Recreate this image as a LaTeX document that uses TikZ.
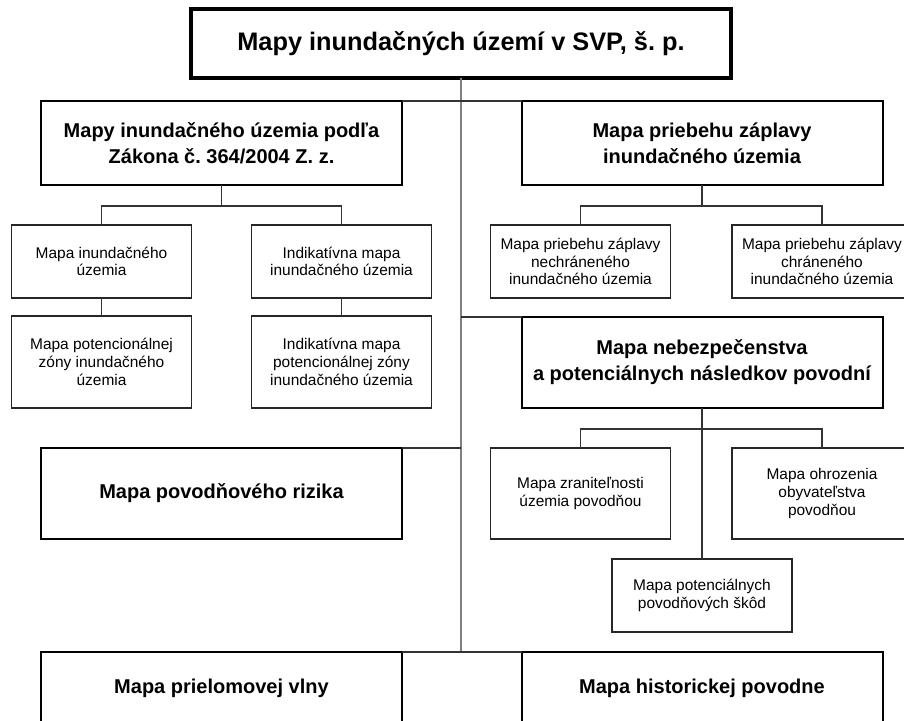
\documentclass[tikz,border=0pt]{standalone}
\usepackage{fontspec}
\setmainfont{Liberation Sans}
\usepackage{tikz}
\usetikzlibrary{positioning}
\frenchspacing

\begin{document}
\begin{tikzpicture}[x=0.75pt,y=-0.75pt,
	title box/.style={draw,line width=3pt,minimum width=405pt,minimum height=51.75pt,inner sep=0pt,outer sep=0pt,font=\bfseries\fontsize{19}{23}\selectfont},
	main box/.style={draw,line width=1.5pt,minimum width=270.75pt,minimum height=63pt,inner sep=0pt,outer sep=0pt,align=center,font=\bfseries\fontsize{15}{19.5}\selectfont},
	leaf box/.style={draw=black!85,line width=1pt,minimum width=135pt,minimum height=54.75pt,inner sep=0pt,outer sep=0pt,align=center,font=\fontsize{11.6}{13.3}\selectfont},
	link/.style={draw=black!80,line width=0.8pt},
	trunk line/.style={draw=black!50,line width=1.1pt}]
		
		\path[use as bounding box,clip] (0,0) rectangle (904,721);
		
		\node[title box] (maps) at (461,43.5) {Mapy inundačných území v SVP, š. p.};
		\node[main box] (law) at (221.5,143) {Mapy inundačného územia podľa\\Zákona č. 364/2004 Z. z.};
		\node[main box] (flood) at (702,143) {Mapa priebehu záplavy\\inundačného územia};
		\node[leaf box] (inund) at (101.5,261.5) {Mapa inundačného\\územia};
		\node[leaf box] (indik) at (341.5,261.5) {Indikatívna mapa\\inundačného územia};
		\node[leaf box, minimum height=69pt] (potzona) [below=13.5pt of inund] {Mapa potencionálnej\\zóny inundačného\\územia};
		\node[leaf box, minimum height=69pt] (indpot) [below=13.5pt of indik] {Indikatívna mapa\\potencionálnej zóny\\inundačného územia};
		\node[leaf box] (nechran) at (580.5,261.5) {Mapa priebehu záplavy\\nechráneného\\inundačného územia};
		\node[leaf box] (chran) at (822,261.5) {Mapa priebehu záplavy\\chráneného\\inundačného územia};
		\node[main box, minimum height=68.25pt] (nebez) at (702,362.5) {Mapa nebezpečenstva\\a potenciálnych následkov povodní};
		\node[main box, minimum height=68.25pt] (riziko) at (221.5,493.5) {Mapa povodňového rizika};
		\node[leaf box, minimum height=68.25pt] (zranit) at (580.5,493.5) {Mapa zraniteľnosti\\územia povodňou};
		\node[leaf box, minimum height=68.25pt] (ohroz) at (822,493.5) {Mapa ohrozenia\\obyvateľstva\\povodňou};
		\node[leaf box] (skody) at (702,595.5) {Mapa potenciálnych\\povodňových škôd};
		\node[main box, minimum height=54pt] (prielom) at (221.5,688) {Mapa prielomovej vlny};
		\node[main box, minimum height=54pt] (histor) at (702,688) {Mapa historickej povodne};
		
		\draw[trunk line] (maps.south) -- (maps.south |- prielom.north);
		\draw[link] (law.north east) -- (flood.north west);
		\draw[link] (maps.south |- nebez.north) -- (nebez.north west);
		\draw[link] (riziko.north east) -- (maps.south |- riziko.north);
		\draw[link] (prielom.north east) -- (histor.north west);
		
		\draw[link] (law.south) -- ++(0,21) coordinate (lawfork) -| (inund.north);
		\draw[link] (lawfork) -| (indik.north);
		\draw[link] (inund) -- (potzona);
		\draw[link] (indik) -- (indpot);
		\draw[link] (flood.south) -- ++(0,21) coordinate (floodfork) -| (nechran.north);
		\draw[link] (floodfork) -| (chran.north);
		\draw[link] (nebez.south) -- (skody.north);
		\draw[link] (zranit.north) -- ++(0,-19) -| (ohroz.north);
		
\end{tikzpicture}
\end{document}
